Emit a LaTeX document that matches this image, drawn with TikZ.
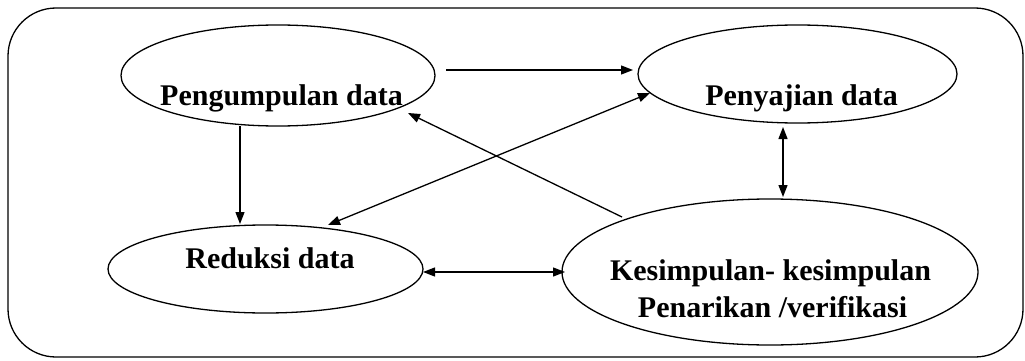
\documentclass[tikz,border=0pt]{standalone}
\usepackage{fontspec}
\setmainfont{Liberation Serif}
\usetikzlibrary{arrows.meta,calc,shapes.geometric}
\begin{document}
\begin{tikzpicture}[x=1pt,y=-1pt,line width=1.3pt,
  stage/.style={draw,ellipse,inner sep=0pt,outer sep=0pt},
  lbl/.style={font=\bfseries\fontsize{30}{37}\selectfont,anchor=base,inner sep=0pt},
  tipshape/.style={},
  link/.style={-{Triangle[length=12pt,width=9pt]}},
  both/.style={{Triangle[length=12pt,width=9pt]}-{Triangle[length=12pt,width=9pt]}}]
\useasboundingbox (0,0) rectangle (1025,361);
% frame
\draw[rounded corners=48pt] (8,8) rectangle (1023,357);
% stages
\node[stage,minimum width=314pt,minimum height=101pt] (e1) at (278,75.5) {};
\node[stage,minimum width=319pt,minimum height=98pt] (e2) at (797.5,74) {};
\node[stage,minimum width=315pt,minimum height=88pt] (e3) at (265.5,269) {};
\node[stage,minimum width=416pt,minimum height=146pt] (e4) at (770,272) {};
% labels
\node[lbl] (t1) at (281.5,105) {Pengumpulan data};
\node[lbl] (t2) at (801.5,105) {Penyajian data};
\node[lbl] (t3) at (270,268) {Reduksi data};
\node[lbl] (t4a) at (770.5,280) {Kesimpulan- kesimpulan};
\node[lbl] (t4b) at (772.5,317) {Penarikan /verifikasi};
% connectors
\coordinate (s1) at (446,70);
\draw[link] (s1) -- ($(e2.west)+(-5,-4)$);
\draw[link] ($(e1.center)+(-38,50.5)$) -- ($(e3.center)+(-25.5,-45)$);
\draw[both] ($(e2.center)+(-147.5,19)$) -- ($(e3.center)+(62.5,-44)$);
\draw[link] ($(e4.center)+(-148,-55)$) -- ($(e1.center)+(130,37.5)$);
\draw[both] ($(e2.center)+(-14.5,53)$) -- ($(e4.center)+(13,-75)$);
\draw[both] ($(e3.center)+(157.5,3)$) -- ($(e4.center)+(-205,0)$);
\end{tikzpicture}
\end{document}
